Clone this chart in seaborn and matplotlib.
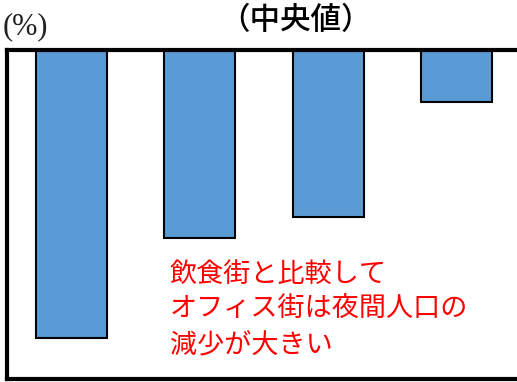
import matplotlib
matplotlib.use("Agg")
import matplotlib.pyplot as plt
import pandas as pd
import seaborn as sns

# データ（中央値、%）
categories = ["オフィス街", "繁華街", "住宅街", "飲食街"]
values = [-30.6, -20.0, -17.8, -5.5]

title_text = "（中央値）"
unit_text = "(%)"
note_text = "飲食街と比較して\nオフィス街は夜間人口の\n減少が大きい"

sns.set_theme(style="white")
plt.rcParams["font.family"] = ["Noto Sans CJK JP", "DejaVu Sans"]

df = pd.DataFrame({"区分": categories, "変化率": values})

fig = plt.figure(figsize=(5.17, 3.82), dpi=100)
ax = fig.add_axes([7 / 517, 3 / 382, 514 / 517, 329 / 382])

sns.barplot(
    data=df,
    x="区分",
    y="変化率",
    color="#5B9BD5",
    saturation=1,
    width=0.55,
    edgecolor="black",
    linewidth=1.5,
    ax=ax,
)

ax.set_xlim(-0.5, 3.5)
ax.set_ylim(-35, 0)
ax.set_xticks([])
ax.set_yticks([])
ax.set_xlabel("")
ax.set_ylabel("")
for side in ["left", "right", "top", "bottom"]:
    ax.spines[side].set_visible(True)
    ax.spines[side].set_color("black")
    ax.spines[side].set_linewidth(3)

fig.text(295 / 517, 1 - 20 / 382, title_text, ha="center", va="center",
         fontsize=22, fontweight="medium", color="black")
fig.text(3 / 517, 1 - 27 / 382, unit_text, ha="left", va="center",
         fontsize=22, color="#222222", family=["Liberation Serif", "DejaVu Serif"])
ax.text(163 / 514, 0.21, note_text, transform=ax.transAxes,
        ha="left", va="center", fontsize=19.5, color="#FF0000", linespacing=1.4)

fig.savefig("out.png", dpi=100)
